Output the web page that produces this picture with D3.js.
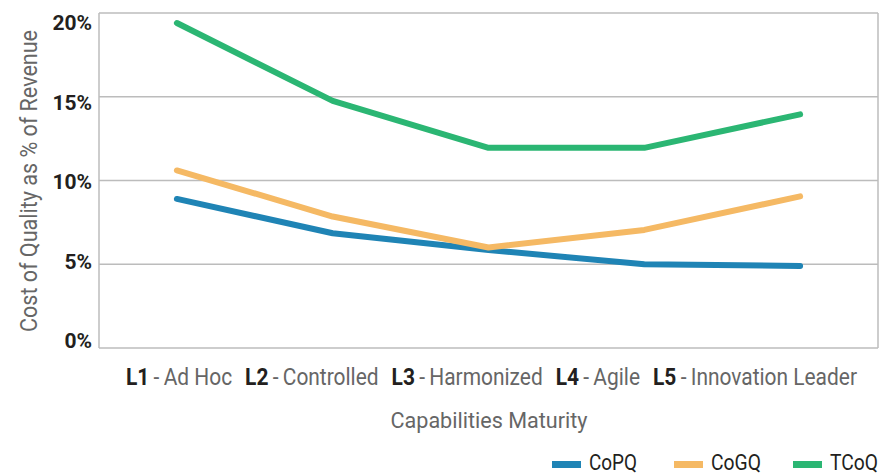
<!DOCTYPE html>
<html><head><meta charset="utf-8">
<script src="https://cdn.jsdelivr.net/npm/d3@7"></script>
<style>
body{margin:0;background:#fff;}
text{font-family:Roboto,"Liberation Sans",sans-serif;}
</style></head>
<body><svg id="c" width="884" height="474"></svg>
<script>
const categories=["L1","L2","L3","L4","L5"];
const categoryNames=["Ad Hoc","Controlled","Harmonized","Agile","Innovation Leader"];
const seriesNames=["CoPQ","CoGQ","TCoQ"];
const copq=[8.9,6.85,5.85,5.0,4.9];
const cogq=[10.6,7.85,6.0,7.05,9.05];
const tcoq=[19.4,14.75,11.95,11.95,13.95];
const yTicks=[0,5,10,15,20];
const colors=["#1f84b5","#f5b964","#2bb673"];

const svg=d3.select("#c");
const L=99,R=878,T=13,B=348;
const x=d3.scalePoint().domain(categories).range([L,R]).padding(0.5);
const y=d3.scaleLinear().domain([0,20]).range([B,T]);
const yLab=d3.scaleLinear().domain([0,20]).range([340,22]);

// gridlines + frame
svg.append("g").selectAll("line").data(yTicks).join("line")
 .attr("x1",L).attr("x2",R).attr("y1",d=>y(d)).attr("y2",d=>y(d))
 .attr("stroke","#bcbcbc").attr("stroke-width",1.5);
[L,R].forEach(v=>svg.append("line").attr("x1",v).attr("x2",v).attr("y1",T).attr("y2",B).attr("stroke","#bcbcbc").attr("stroke-width",1.5));

// y labels
const ya=svg.append("g").attr("transform",`translate(${L},0)`)
 .call(d3.axisLeft(yLab).tickValues(yTicks).tickSize(0).tickPadding(7).tickFormat(d=>d+"%"));
ya.select(".domain").remove();
ya.selectAll("text").attr("font-family",null).attr("font-size",21).attr("font-weight","bold")
 .attr("fill","#231f20").attr("dy","0.36em");

svg.append("text").attr("transform",`translate(37,181) rotate(-90)`)
 .attr("text-anchor","middle").attr("font-size",23).attr("fill","#666")
 .attr("textLength",302).attr("lengthAdjust","spacingAndGlyphs")
 .text("Cost of Quality as % of Revenue");

// lines
const series=[copq,cogq,tcoq];
const line=d3.line().x((d,i)=>x(categories[i])).y(d=>y(d));
svg.append("g").selectAll("path").data(series).join("path")
 .attr("d",line).attr("fill","none").attr("stroke",(d,i)=>colors[i])
 .attr("stroke-width",6).attr("stroke-linecap","round").attr("stroke-linejoin","round");

// x labels laid out as one condensed line
const gap=13, lineStart=126, lineEnd=857;
const xls=svg.append("g").selectAll("text").data(categories).join("text")
 .attr("y",385).attr("font-size",23);
xls.append("tspan").attr("font-weight","bold").attr("fill","#231f20").text(d=>d);
xls.append("tspan").attr("fill","#666").text((d,i)=>"\u2009-\u2009"+categoryNames[i]);
const widths=xls.nodes().map(n=>n.getComputedTextLength());
const k=(lineEnd-lineStart-gap*(categories.length-1))/d3.sum(widths);
let cx=lineStart;
xls.each(function(d,i){
  const w=widths[i]*k;
  d3.select(this).attr("x",cx).attr("textLength",w).attr("lengthAdjust","spacingAndGlyphs");
  cx+=w+gap;
});
svg.append("text").attr("x",489).attr("y",428).attr("text-anchor","middle").attr("font-size",22).attr("fill","#666")
 .attr("textLength",197).attr("lengthAdjust","spacingAndGlyphs").text("Capabilities Maturity");

// legend
const lgX=[552,674,793];
const lgW=[48,50,48];
const lg=svg.append("g").selectAll("g").data(seriesNames).join("g").attr("transform",(d,i)=>`translate(${lgX[i]},0)`);
lg.append("rect").attr("x",0).attr("y",461).attr("width",29).attr("height",7).attr("fill",(d,i)=>colors[i]);
lg.append("text").attr("x",37).attr("y",470).attr("font-size",22).attr("fill","#231f20")
 .attr("textLength",(d,i)=>lgW[i]).attr("lengthAdjust","spacingAndGlyphs").text(d=>d);
</script></body></html>
